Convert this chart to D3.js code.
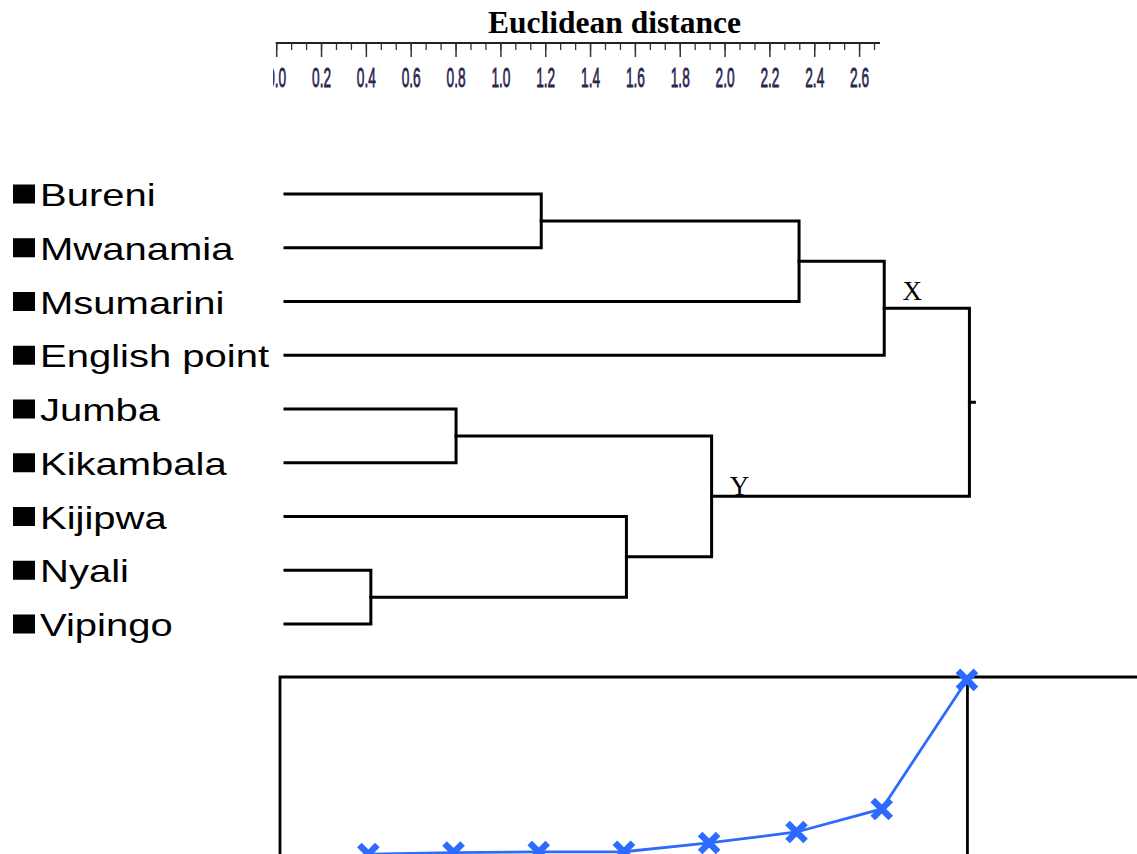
<!DOCTYPE html>
<html>
<head>
<meta charset="utf-8">
<script src="https://cdn.jsdelivr.net/npm/d3@7/dist/d3.min.js"></script>
<style>
  html, body { margin: 0; padding: 0; background: #fff; }
  svg { display: block; }
</style>
</head>
<body>
<script>
// Sampling sites (dendrogram leaves, top to bottom)
const sites = ["Bureni", "Mwanamia", "Msumarini", "English point", "Jumba",
               "Kikambala", "Kijipwa", "Nyali", "Vipingo"];

// Agglomeration steps: [left, right, distance]; ids >= sites.length refer to earlier merges
const mergeLeft   = [7, 4, 0, 6,  10, 11, 14, 15];
const mergeRight  = [8, 5, 1, 9,  12, 2,  3,  13];
const mergeHeight = [0.42, 0.80, 1.18, 1.56, 1.94, 2.33, 2.71, 3.09];

// Cluster labels shown on specific merges
const clusterLabels = [{ merge: 6, text: "X" }, { merge: 4, text: "Y" }];

// Distance axis ticks
const majorTicks = d3.range(0, 2.61, 0.2);
const minorTicks = d3.range(0, 2.7, 0.2 / 3);

// Agglomeration coefficient for each step
const coefficient = [0.83, 0.91, 0.94, 0.95, 1.41, 1.98, 3.18, 9.9];

const W = 1137, H = 854;
const svg = d3.select("body").append("svg").attr("width", W).attr("height", H);
svg.append("rect").attr("width", W).attr("height", H).attr("fill", "#fff");

const x = d3.scaleLinear().domain([0, 2.7]).range([276.7, 882]);
const y = d3.scalePoint().domain(sites).range([194, 624]);

// ---------- top axis ----------
svg.append("text")
  .attr("x", 614.5).attr("y", 33)
  .attr("text-anchor", "middle")
  .attr("font-family", "Liberation Serif, Times New Roman, serif")
  .attr("font-weight", "bold")
  .attr("font-size", 31.5)
  .text("Euclidean distance");

svg.append("clipPath").attr("id", "axclip")
  .append("rect").attr("x", 273).attr("y", 30).attr("width", 700).attr("height", 70);

const axG = svg.append("g").attr("clip-path", "url(#axclip)");
axG.append("line")
  .attr("x1", x(0) - 1).attr("x2", 880).attr("y1", 43).attr("y2", 43)
  .attr("stroke", "#222").attr("stroke-width", 2.2);

axG.selectAll("line.minor").data(minorTicks).join("line")
  .attr("class", "minor")
  .attr("x1", d => x(d)).attr("x2", d => x(d))
  .attr("y1", 43).attr("y2", 50)
  .attr("stroke", "#333").attr("stroke-width", 1.3);

axG.selectAll("line.major").data(majorTicks).join("line")
  .attr("class", "major")
  .attr("x1", d => x(d)).attr("x2", d => x(d))
  .attr("y1", 43).attr("y2", 57)
  .attr("stroke", "#333").attr("stroke-width", 1.5);

axG.selectAll("text.tick").data(majorTicks).join("text")
  .attr("class", "tick")
  .attr("transform", d => `translate(${x(d)},87) scale(0.48,1)`)
  .attr("text-anchor", "middle")
  .attr("font-family", "Liberation Sans, Arial, sans-serif")
  .attr("font-size", 28.5)
  .attr("fill", "#2a2450")
  .attr("stroke", "#2a2450").attr("stroke-width", 0.8)
  .text(d => d3.format(".1f")(d));

// ---------- dendrogram ----------
const leafStart = x(0) + 8.3;
const nodes = sites.map(s => ({ x: leafStart, y: y(s) }));
mergeHeight.forEach((h, i) => {
  const a = nodes[mergeLeft[i]], b = nodes[mergeRight[i]];
  nodes.push({ x: x(h), y: (a.y + b.y) / 2, a, b });
});

const dg = svg.append("g")
  .attr("fill", "none").attr("stroke", "#000").attr("stroke-width", 3)
  .attr("stroke-linejoin", "miter").attr("stroke-linecap", "square");

nodes.slice(sites.length).forEach(n => {
  dg.append("path").attr("d",
    `M${n.a.x},${n.a.y}H${n.x}V${n.b.y}H${n.b.x}`);
});
const root = nodes[nodes.length - 1];
dg.append("path").attr("d", `M${root.x},${root.y}h5`);

clusterLabels.forEach(c => {
  const n = nodes[sites.length + c.merge];
  svg.append("text")
    .attr("x", n.x + 28).attr("y", n.y - (c.text === "X" ? 8 : 1))
    .attr("text-anchor", "middle")
    .attr("font-family", "Liberation Serif, Times New Roman, serif")
    .attr("font-size", 27)
    .text(c.text);
});

// leaf labels with square bullets
const lg = svg.append("g");
lg.selectAll("rect").data(sites).join("rect")
  .attr("x", 13).attr("y", d => y(d) - 9.5)
  .attr("width", 22).attr("height", 19)
  .attr("fill", "#000");
lg.selectAll("text").data(sites).join("text")
  .attr("transform", d => `translate(40,${y(d) + 12}) scale(1.25,1)`)
  .attr("font-family", "Liberation Sans, Arial, sans-serif")
  .attr("font-size", 32)
  .attr("fill", "#000")
  .text(d => d);

// ---------- agglomeration schedule ----------
const yb = d3.scaleLinear().domain([0, 10]).range([870, 678]);
const bg = svg.append("g");
bg.append("path")
  .attr("d", `M280,${H + 5}V677H${W + 5}`)
  .attr("fill", "none").attr("stroke", "#000").attr("stroke-width", 2.8);
bg.append("line")
  .attr("x1", x(mergeHeight[mergeHeight.length - 1]) - 2)
  .attr("x2", x(mergeHeight[mergeHeight.length - 1]) - 2)
  .attr("y1", 677).attr("y2", H + 5)
  .attr("stroke", "#000").attr("stroke-width", 2.8);

const pts = mergeHeight.map((h, i) => [x(h) - 2.5, yb(coefficient[i])]);
const blue = "#2d6bff";
bg.append("path")
  .attr("d", d3.line()(pts))
  .attr("fill", "none").attr("stroke", blue).attr("stroke-width", 2.8);
const s = 9;
bg.selectAll("path.mk").data(pts).join("path")
  .attr("class", "mk")
  .attr("d", p => `M${p[0] - s},${p[1] - s}L${p[0] + s},${p[1] + s}M${p[0] - s},${p[1] + s}L${p[0] + s},${p[1] - s}`)
  .attr("stroke", blue).attr("stroke-width", 6.5).attr("fill", "none");
</script>
</body>
</html>
